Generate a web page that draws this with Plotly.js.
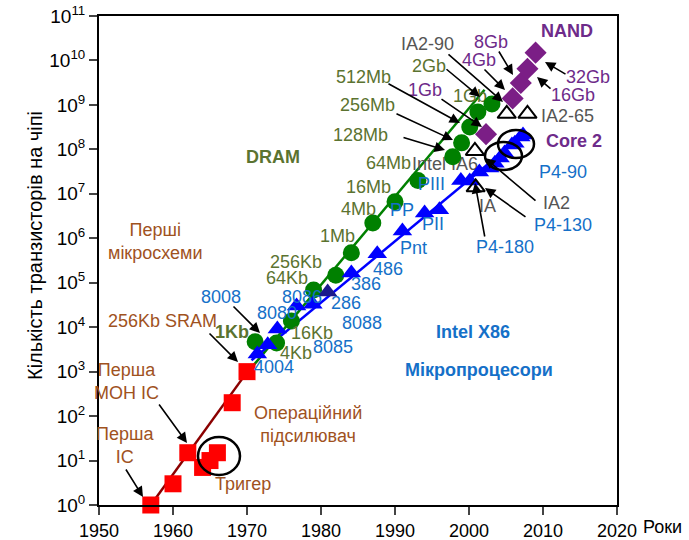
<!DOCTYPE html>
<html><head><meta charset="utf-8">
<script src="https://cdn.plot.ly/plotly-3.0.1.min.js"></script>
<style>body{margin:0;background:#fff}#chart{width:689px;height:540px}</style>
</head><body><div id="chart"></div>
<script>
// ---- data ----
const icYears   = [1957, 1960, 1962, 1964, 1965, 1966, 1968, 1970];
const icCounts  = [1, 3, 15, 7, 10, 15, 200, 1000];
const icFitX    = [1957, 1970.4];
const icFitY    = [1, 1200];

const dramYears  = [1971.1, 1974.0, 1976.0, 1979.0, 1982.0, 1984.1, 1987.0, 1990.0, 1993.1, 1997.8, 1999.0, 2000.1, 2001.2, 2003.1];
const dramCounts = [4700, 4400, 13800, 69000, 148000, 470000, 2.2e6, 6.6e6, 2.0e7, 6.8e7, 1.4e8, 3.2e8, 6.9e8, 1.05e9];
const dramFitX   = [1970.0, 2002.1];
const dramFitY   = [930, 2.2e9];

const cpuYears  = [1971.4, 1972.8, 1974.1, 1976.7, 1978.9, 1980.9, 1984.1, 1987.6, 1991.0, 1994.0, 1996.0, 1998.9, 2000.1, 2001.4, 2002.8, 2003.5, 2004.2, 2004.8, 2005.8, 2006.2, 2007.0, 2007.3];
const cpuCounts = [2500, 4000, 9100, 30000, 33000, 62000, 166000, 450000, 1.45e6, 3.7e6, 4.4e6, 2.0e7, 1.95e7, 3.1e7, 3.8e7, 4.9e7, 6.4e7, 8.3e7, 1.26e8, 1.38e8, 1.9e8, 2.1e8];
const cpuIs286  = [0,0,0,0,0,1,0,0,0,0,0,0,0,0,0,0,0,0,0,0,0,0];
const cpuFitX   = [1970.6, 2007.3];
const cpuFitY   = [1800, 2.1e8];

const nandYears  = [2002.3, 2005.9, 2007.0, 2007.9, 2009.0];
const nandCounts = [2.2e8, 1.4e9, 3.1e9, 6.5e9, 1.5e10];

const iaYears  = [2000.9, 2000.8, 2005.1, 2007.9];
const iaCounts = [1.4e7, 9.2e7, 6.3e8, 6.3e8];

const xTicks = [1950, 1960, 1970, 1980, 1990, 2000, 2010, 2020];
const yTickVals = [1,1e1,1e2,1e3,1e4,1e5,1e6,1e7,1e8,1e9,1e10,1e11];
const yTickText = yTickVals.map((v,i)=>'10<sup>'+i+'</sup>');

// ---- colours ----
const BROWN='#A0521E', OLIVE='#5B7330', BLUE='#1570C8', PURPLE='#6E2B8A', GRAY='#555555';
const FONT='Liberation Sans, Arial, sans-serif';
const FS=18;

// layout helpers (pixel -> paper / data)
const L=99, R=617, T=16, B=505;
const px = x => (x-L)/(R-L);
const py = y => (B-y)/(B-T);
const dx = x => 1950 + (x-L)/(R-L)*70;
const dy = y => Math.pow(10, (B-y)/(B-T)*11);

const labels = [
 ['<b>NAND</b>',567,31,PURPLE],
 ['IA2-90',427,44,GRAY],
 ['8Gb',491,42,PURPLE],
 ['4Gb',479,60,PURPLE],
 ['2Gb',429,66,OLIVE],
 ['32Gb',588,77,PURPLE],
 ['16Gb',573,95,PURPLE],
 ['1Gb',425,90,PURPLE],
 ['512Mb',363,77,OLIVE],
 ['IA2-65',567,116,GRAY],
 ['256Mb',367,105,OLIVE],
 ['128Mb',360,135,OLIVE],
 ['<b>Core 2</b>',574,141,PURPLE],
 ['<b>DRAM</b>',273,157,OLIVE],
 ['64Mb',388,163,OLIVE],
 ['P4-90',563,172,BLUE],
 ['16Mb',368,187,OLIVE],
 ['PIII',431,184,BLUE],
 ['IA2',556,203,GRAY],
 ['4Mb',358,209,OLIVE],
 ['PP',402,210,BLUE],
 ['IA',487,206,GRAY],
 ['P4-130',563,225,BLUE],
 ['PII',433,224,BLUE],
 ['Перші<br>мікросхеми',155,242,BROWN],
 ['1Mb',337,236,OLIVE],
 ['Pnt',413,248,BLUE],
 ['P4-180',505,247,BLUE],
 ['256Kb',296,262,OLIVE],
 ['486',388,269,BLUE],
 ['64Kb',287,278,OLIVE],
 ['386',366,284,BLUE],
 ['8086',302,297,BLUE],
 ['8008',221,297,BLUE],
 ['286',346,303,BLUE],
 ['8080',277,313,BLUE],
 ['256Kb SRAM',162,321,BROWN],
 ['16Kb',312,333,OLIVE],
 ['8088',362,323,BLUE],
 ['<b>1Kb</b>',232,332,OLIVE],
 ['4Kb',296,353,OLIVE],
 ['8085',333,347,BLUE],
 ['<b>Intel X86</b>',473,332,BLUE],
 ['4004',274,367,BLUE],
 ['<b>Мікропроцесори</b>',479,370,BLUE],
 ['Перша<br>МОН IC',126,381,BROWN],
 ['Операційний<br>підсилювач',308,424,BROWN],
 ['Перша<br>IC',125,445,BROWN],
 ['Тригер',243,484,BROWN],
 ['Роки',662,527,'#000000']
];

// labels drawn beneath the markers (partly hidden in the original)
const underLabels = [
 ['1Gb',470,97,OLIVE],
 ['Intel IA6',445,165,GRAY]
];

// arrows: tail (x,y) -> tip (x,y) in pixels
const arrows = [
 [447,53,503,102],
 [483,68,505,90],
 [498,50,513,75],
 [445,68,480,97],
 [440,98,482,127],
 [567,75,545,62],
 [552,90,537,77],
 [387,83,460,123],
 [395,113,453,140],
 [402,137,445,150],
 [537,202,485,158],
 [527,218,485,188],
 [485,238,475,183],
 [232,305,260,333],
 [208,332,238,362],
 [158,403,187,443],
 [125,468,143,497]
];

const annotations = labels.map(l=>({
  text:l[0], x:px(l[1]), y:py(l[2]), xref:'paper', yref:'paper',
  showarrow:false, xanchor:'center', yanchor:'middle',
  font:{family:FONT,size:FS,color:l[3]}
})).concat(arrows.map(a=>({
  text:'', x:px(a[2]), y:py(a[3]), xref:'paper', yref:'paper',
  ax:a[0]-a[2], ay:a[1]-a[3], showarrow:true,
  arrowhead:2, arrowsize:1.3, arrowwidth:1.6, arrowcolor:'#000'
}))).concat([{
  text:'Кількість транзисторів на чіпі', textangle:-90, x:px(35), y:py(246),
  xref:'paper', yref:'paper', showarrow:false, xanchor:'center', yanchor:'middle',
  font:{family:FONT,size:20,color:'#000'}
}]);

const ell = (x0,x1,y0,y1)=>({type:'circle', xref:'paper', yref:'paper',
  x0:px(x0), x1:px(x1), y0:py(y1), y1:py(y0), line:{color:'#000',width:2.5}, layer:'above'});
const shapes = [ell(198,240,437,475), ell(485,522,142,170), ell(498,534,130,158)];

const traces = [
 {x:icFitX, y:icFitY, mode:'lines', line:{color:'#8B0000',width:2.5}, hoverinfo:'skip'},
 {x:dramFitX, y:dramFitY, mode:'lines', line:{color:'#008000',width:2.5}, hoverinfo:'skip'},
 {x:cpuFitX, y:cpuFitY, mode:'lines', line:{color:'#0000FF',width:2.5}, hoverinfo:'skip'},
 {x:underLabels.map(l=>dx(l[1])), y:underLabels.map(l=>dy(l[2])), mode:'text',
  text:underLabels.map(l=>l[0]), textposition:'middle center', cliponaxis:false,
  textfont:{family:FONT,size:FS,color:underLabels.map(l=>l[3])}},
 {x:icYears, y:icCounts, mode:'markers', marker:{symbol:'square', size:17, color:'#FF0000'}, cliponaxis:false},
 {x:dramYears, y:dramCounts, mode:'markers', marker:{symbol:'circle', size:17, color:'#008000'}, cliponaxis:false},
 {x:cpuYears, y:cpuCounts, mode:'markers', marker:{symbol:'triangle-up', size:17,
    color:cpuIs286.map(v=>v?'#1A1A8C':'#0000FF'), line:{width:0}}, cliponaxis:false},
 {x:nandYears, y:nandCounts, mode:'markers', marker:{symbol:'diamond', size:17, color:'#7B1E86'}, cliponaxis:false},
 {x:iaYears, y:iaCounts, mode:'markers', marker:{symbol:'triangle-up-open', size:16, color:'#000', line:{width:2}}, cliponaxis:false}
];

const layout = {
  width:689, height:540, showlegend:false,
  margin:{l:L, r:689-R, t:T, b:540-B},
  paper_bgcolor:'#fff', plot_bgcolor:'#fff',
  font:{family:FONT, color:'#000'},
  xaxis:{range:[1950,2020], tickvals:xTicks, ticks:'outside', ticklen:8, tickwidth:2,
    showline:true, linewidth:2, linecolor:'#000', mirror:true, showgrid:false, zeroline:false,
    tickfont:{size:18, family:FONT}},
  yaxis:{type:'log', range:[0,11], tickvals:yTickVals, ticktext:yTickText, ticks:'outside',
    ticklen:8, tickwidth:2, showline:true, linewidth:2, linecolor:'#000', mirror:true,
    showgrid:false, zeroline:false, tickfont:{size:19, family:FONT}},
  annotations:annotations, shapes:shapes
};
Plotly.newPlot('chart', traces, layout, {staticPlot:true});
</script></body></html>
